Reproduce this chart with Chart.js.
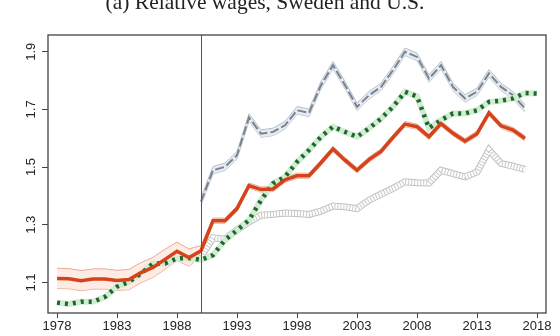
<!DOCTYPE html>
<html><head><meta charset="utf-8">
<script src="https://cdn.jsdelivr.net/npm/chart.js@4.4.1/dist/chart.umd.min.js"></script>
<style>
html,body{margin:0;padding:0;background:#fff;overflow:hidden}
#wrap{position:relative;width:560px;height:336px;overflow:hidden}
#title{position:absolute;left:0;width:530px;top:-8px;text-align:center;font:21.5px "Liberation Serif",serif;color:#222;line-height:21px;white-space:nowrap}
canvas{position:absolute;left:0;top:0}
</style></head><body>
<div id="wrap"><canvas id="c" width="560" height="336"></canvas><div id="title">(a) Relative wages, Sweden and U.S.</div></div>
<script>
const yearsAll = [1978,1979,1980,1981,1982,1983,1984,1985,1986,1987,1988,1989,1990,1991,1992,1993,1994,1995,1996,1997,1998,1999,2000,2001,2002,2003,2004,2005,2006,2007,2008,2009,2010,2011,2012,2013,2014,2015,2016,2017,2018];
const xTicks = [1978,1983,1988,1993,1998,2003,2008,2013,2018];
const yTicks = [1.1,1.3,1.5,1.7,1.9];
const reformYear = 1990;

// Sweden (red solid, 1978-2017) and its confidence half-width
const swedenRed = [1.114,1.113,1.106,1.112,1.112,1.107,1.110,1.134,1.152,1.180,1.208,1.186,1.210,1.314,1.314,1.356,1.436,1.422,1.424,1.456,1.470,1.470,1.515,1.563,1.524,1.489,1.526,1.554,1.603,1.649,1.640,1.605,1.651,1.617,1.590,1.616,1.688,1.643,1.628,1.599];
const swedenHalf = [0.035,0.035,0.035,0.035,0.035,0.035,0.035,0.035,0.035,0.035,0.032,0.030,0.018,0.009,0.009,0.009,0.009,0.009,0.009,0.009,0.009,0.009,0.009,0.009,0.009,0.009,0.009,0.009,0.009,0.009,0.009,0.009,0.009,0.009,0.009,0.009,0.009,0.009,0.009,0.009];
// Green dotted series (1978-2018)
const greenDotted = [1.030,1.025,1.033,1.033,1.050,1.085,1.102,1.131,1.165,1.166,1.183,1.185,1.178,1.195,1.247,1.281,1.316,1.385,1.443,1.466,1.518,1.559,1.605,1.640,1.622,1.605,1.634,1.668,1.709,1.761,1.745,1.635,1.663,1.686,1.686,1.697,1.726,1.730,1.738,1.757,1.755];
// U.S. series (1990-2017)
const usYears = yearsAll.slice(12, 40);
const usUpper = [1.380,1.489,1.501,1.541,1.672,1.616,1.622,1.645,1.697,1.688,1.784,1.853,1.784,1.709,1.749,1.778,1.836,1.900,1.882,1.807,1.853,1.778,1.738,1.761,1.825,1.778,1.749,1.703];
const usUpperHalf = 0.013;
const usLower = [1.189,1.255,1.250,1.282,1.310,1.333,1.336,1.341,1.339,1.336,1.347,1.365,1.362,1.356,1.385,1.406,1.426,1.449,1.446,1.445,1.489,1.477,1.466,1.483,1.559,1.513,1.503,1.492];

const pts = (xs, ys) => ys.map((v,i)=>({x:xs[i], y:v}));
const redYears = yearsAll.slice(0, 40);

const base = {pointRadius:0, tension:0, fill:false};
const datasets = [
  Object.assign({}, base, {data: pts(redYears, swedenRed), borderColor:'#d4431b', borderWidth:3.5, order:0}),
  Object.assign({}, base, {data: pts(yearsAll, greenDotted), borderColor:'#1a6b2b', borderWidth:4.5, borderDash:[3,5], order:1}),
  Object.assign({}, base, {data: pts(yearsAll, greenDotted), borderColor:'#d3ebd3', borderWidth:6, order:2}),
  Object.assign({}, base, {data: pts(usYears, usUpper), borderColor:'#7c828b', borderWidth:2, borderDash:[9,3], order:3}),
  Object.assign({}, base, {data: pts(usYears, usLower), borderColor:'#c8c8c8', borderWidth:5, borderDash:[1,2], order:4}),
  Object.assign({}, base, {data: pts(usYears, usLower), borderColor:'#ffffff', borderWidth:5, order:5}),
  Object.assign({}, base, {data: pts(usYears, usLower), borderColor:'#c0c0c0', borderWidth:7, order:6}),
  // US upper band
  Object.assign({}, base, {data: pts(usYears, usUpper.map(v=>v+usUpperHalf)), borderColor:'#b4bfcd', borderWidth:1, backgroundColor:'rgba(222,230,239,0.75)', fill:'+1', order:10}),
  Object.assign({}, base, {data: pts(usYears, usUpper.map(v=>v-usUpperHalf)), borderColor:'#b4bfcd', borderWidth:1, order:11}),
  // Sweden band
  Object.assign({}, base, {data: pts(redYears, swedenRed.map((v,i)=>v+swedenHalf[i])), borderColor:'#eba896', borderWidth:1, backgroundColor:'rgba(251,222,210,0.6)', fill:'+1', order:12}),
  Object.assign({}, base, {data: pts(redYears, swedenRed.map((v,i)=>v-swedenHalf[i])), borderColor:'#eba896', borderWidth:1, order:13}),
];

const framePlugin = {
  id:'frame',
  afterDatasetsDraw(chart){
    const {ctx, chartArea:a, scales} = chart;
    ctx.save();
    const xr = scales.x.getPixelForValue(reformYear);
    ctx.strokeStyle = '#555'; ctx.lineWidth = 1;
    ctx.beginPath(); ctx.moveTo(Math.round(xr)+0.5, a.top); ctx.lineTo(Math.round(xr)+0.5, a.bottom); ctx.stroke();
    ctx.strokeStyle = '#444'; ctx.lineWidth = 1.3;
    ctx.strokeRect(a.left, a.top, a.right-a.left, a.bottom-a.top);
    ctx.restore();
  }
};

new Chart(document.getElementById('c'), {
  type:'line',
  data:{datasets},
  options:{
    responsive:false, animation:false,
    layout:{padding:{top:35, right:14, left:0, bottom:0}},
    plugins:{legend:{display:false}, tooltip:{enabled:false}},
    scales:{
      x:{type:'linear', min:1977.25, max:2018.75,
        afterBuildTicks:s=>{s.ticks = xTicks.map(v=>({value:v}));},
        afterFit:s=>{s.height = 23;},
        grid:{drawOnChartArea:false, drawTicks:true, tickLength:5, color:'#444'},
        border:{display:false},
        ticks:{padding:1, color:'#222', font:{family:'"Liberation Sans", Arial, sans-serif', size:13}, maxRotation:0, autoSkip:false, callback:v=>String(v)}
      },
      y:{type:'linear', min:0.994, max:1.958,
        afterBuildTicks:s=>{s.ticks = yTicks.map(v=>({value:v}));},
        afterFit:s=>{s.width = 48;},
        grid:{drawOnChartArea:false, drawTicks:true, tickLength:6, color:'#444'},
        border:{display:false},
        ticks:{padding:2, color:'#222', minRotation:90, maxRotation:90, crossAlign:'center', font:{family:'"Liberation Sans", Arial, sans-serif', size:13}, callback:v=>v.toFixed(1)}
      }
    }
  },
  plugins:[framePlugin]
});
</script>
</body></html>
